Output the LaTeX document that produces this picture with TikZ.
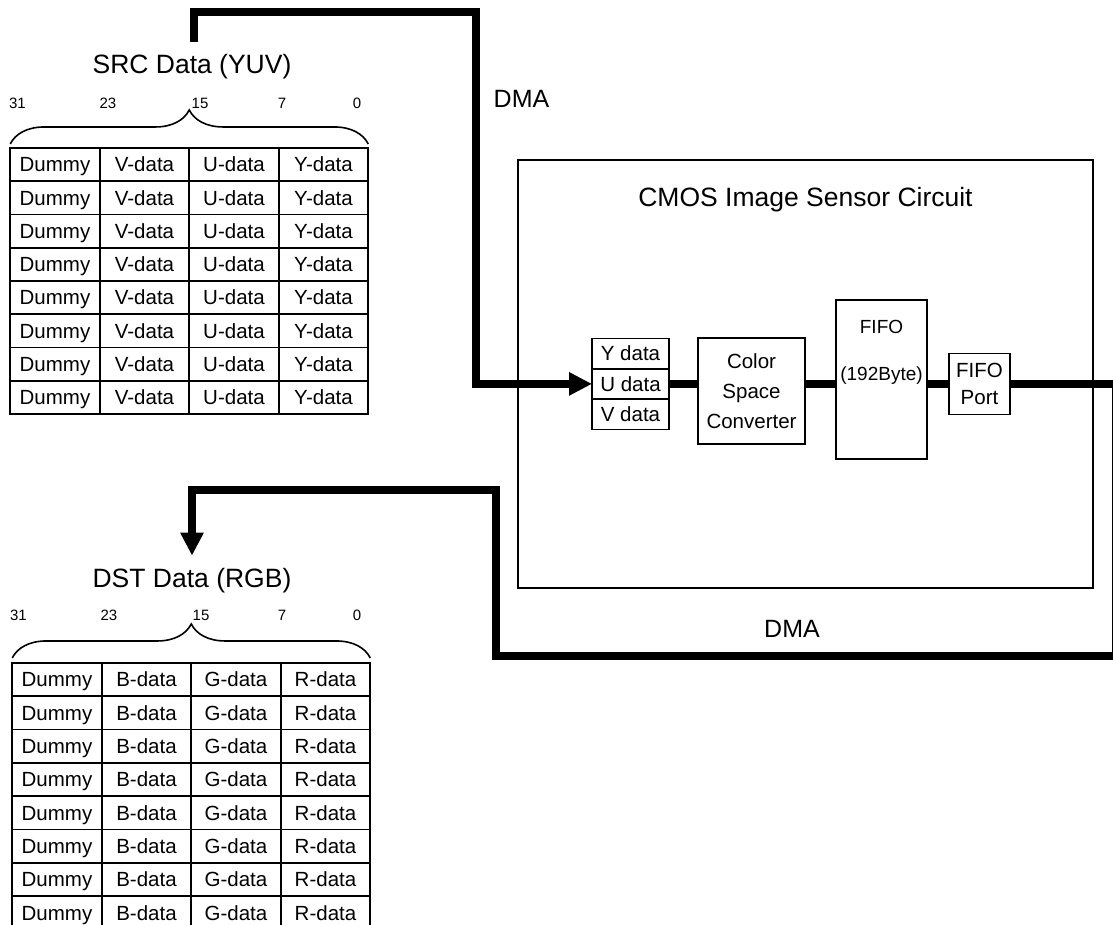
\documentclass[tikz,border=0pt]{standalone}
\usepackage{fontspec}
\setmainfont{Liberation Sans}
\usetikzlibrary{arrows.meta, positioning, decorations.pathreplacing}

\newcommand{\fsz}[2]{\fontsize{#1}{#2}\selectfont}

\begin{document}
\begin{tikzpicture}[
        x=1pt, y=-1pt,
        cell/.style={
            rectangle,
            draw=black,
            line width=1.6pt,
            inner sep=0pt,
            outer sep=0pt,
            minimum width=89.5pt,
            minimum height=33.25pt,
            text height=17pt,
            text depth=2.3pt,
            font=\fsz{20.5}{24}
        },
        block/.style={
            rectangle,
            draw=black,
            line width=1.6pt,
            inner sep=0pt,
            outer sep=0pt,
            align=center,
            font=\fsz{20.5}{30}
        },
        datatitle/.style={inner sep=0pt, outer sep=13pt, font=\fsz{26.5}{30}},
        bitnum/.style={inner sep=0pt, font=\fsz{15}{18}},
        dmatext/.style={inner sep=0pt, font=\fsz{25}{30}},
        bitbrace/.style={decorate, decoration={brace, amplitude=34pt}, line width=1.6pt},
        dma/.style={line width=8pt, -{Triangle[length=23pt, width=22pt]}},
        bus/.style={line width=8pt}
    ]
        \useasboundingbox (0,0) rectangle (1113,925);
        \clip (0,0) rectangle (1113,925);

        % Source data (YUV)
        \node[datatitle] (srctitle) at (192,67) {SRC Data (YUV)};
        \node[bitnum] (src31) at (17.5,103) {31};
        \node[bitnum] (src23) at (108,103) {23};
        \node[bitnum] (src15) at (200,103) {15};
        \node[bitnum] (src7) at (282,103) {7};
        \node[bitnum] (src0) at (357,103) {0};
        \foreach \r in {0,...,7} {
            \node[cell] (src-\r-1) at (55,164.6+33.25*\r) {Dummy};
            \node[cell] (src-\r-2) at (144.5,164.6+33.25*\r) {V-data};
            \node[cell] (src-\r-3) at (234,164.6+33.25*\r) {U-data};
            \node[cell] (src-\r-4) at (323.5,164.6+33.25*\r) {Y-data};
        }
        \draw[bitbrace] ([yshift=4pt]src-0-1.north west) -- ([yshift=4pt]src-0-4.north east);

        % Destination data (RGB)
        \node[datatitle] (dsttitle) at (192,581) {DST Data (RGB)};
        \node[bitnum] (dst31) at (18.5,615) {31};
        \node[bitnum] (dst23) at (109,615) {23};
        \node[bitnum] (dst15) at (201,615) {15};
        \node[bitnum] (dst7) at (282,615) {7};
        \node[bitnum] (dst0) at (357,615) {0};
        \foreach \r in {0,...,7} {
            \node[cell] (dst-\r-1) at (57,679.6+33.3*\r) {Dummy};
            \node[cell] (dst-\r-2) at (146.5,679.6+33.3*\r) {B-data};
            \node[cell] (dst-\r-3) at (236,679.6+33.3*\r) {G-data};
            \node[cell] (dst-\r-4) at (325.5,679.6+33.3*\r) {R-data};
        }
        \draw[bitbrace] ([yshift=5pt]dst-0-1.north west) -- ([yshift=5pt]dst-0-4.north east);

        % CMOS image sensor circuit
        \node[block, minimum width=575pt, minimum height=428pt] (cmos) at (805.5,374) {};
        \node[anchor=north, inner sep=0pt, font=\fsz{26.5}{30}] (cmostitle) at ([yshift=-27pt]cmos.north) {CMOS Image Sensor Circuit};

        \node[block, minimum width=77pt, minimum height=30.4pt] (yd) at (630.5,353.5) {Y data};
        \node[block, minimum width=77pt, minimum height=30.4pt, below=0pt of yd] (ud) {U data};
        \node[block, minimum width=77pt, minimum height=30.4pt, below=0pt of ud] (vd) {V data};
        \node[block, minimum width=107pt, minimum height=106pt] (csc) at (751.5,391) {Color\\Space\\Converter};
        \node[block, minimum width=91pt, minimum height=159pt] (fifo) at (881.5,379.5) {};
        \node[inner sep=0pt, font=\fsz{19}{22}] (fifoname) at (881.5,327) {FIFO};
        \node[inner sep=0pt, font=\fsz{19}{22}] (fifosize) at (881.5,376) {(192Byte)};
        \node[block, minimum width=61pt, minimum height=61pt, font=\fsz{20.5}{27}] (port) at (979.5,384) {FIFO\\Port};

        % Internal buses
        \draw[bus] (ud.east) -- (ud.east -| csc.west);
        \draw[bus] (csc.east |- ud.east) -- (fifo.west |- ud.east);
        \draw[bus] (fifo.east |- port.west) -- (port.west);

        % DMA transfers
        \coordinate (srcbend) at (475.5,12);
        \coordinate (rightdown) at (1115.5,656);
        \coordinate (dstbend) at (496,490);
        \draw[dma] ([xshift=2pt]srctitle.north) |- (srcbend) |- (ud.west);
        \draw[dma] (port.east) -| (rightdown) -| (dstbend) -| (dsttitle.north);
        \node[dmatext] (dmain) at (521.5,99) {DMA};
        \node[dmatext] (dmaout) at (792,629) {DMA};

    \end{tikzpicture}
\end{document}
